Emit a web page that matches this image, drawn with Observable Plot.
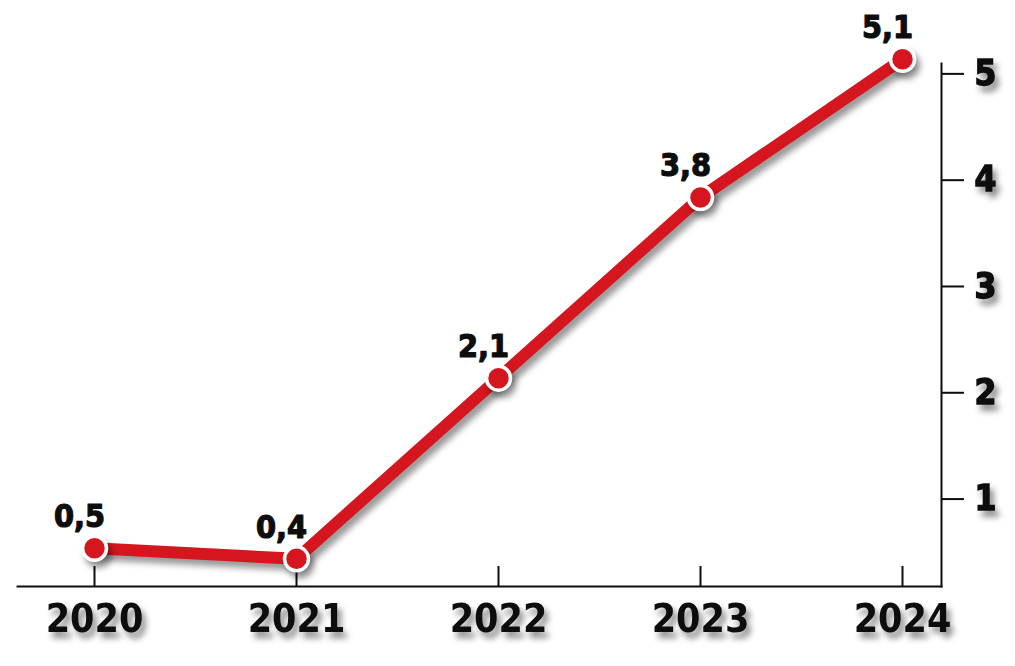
<!DOCTYPE html>
<html><head><meta charset="utf-8">
<script src="https://cdn.jsdelivr.net/npm/d3@7"></script>
<script src="https://cdn.jsdelivr.net/npm/@observablehq/plot@0.6"></script>
<style>
html,body{margin:0;padding:0;background:#fff;}
</style></head><body><div id="chart"></div>
<script>
const years = ["2020", "2021", "2022", "2023", "2024"];
const values = [0.5, 0.4, 2.1, 3.8, 5.1];
const valueLabels = ["0,5", "0,4", "2,1", "3,8", "5,1"];
const yTicks = [1, 2, 3, 4, 5];
const data = years.map((y, i) => ({year: y, value: values[i], label: valueLabels[i]}));

const W = 1015, H = 666, mT = 63, mB = 80, mL = 17, mR = 74;
const red = "#d5161e";
const ink = "#0d0d0d";
const cond = "'DejaVu Sans Condensed', 'DejaVu Sans', sans-serif";

const plot = Plot.plot({
  width: W, height: H, marginTop: mT, marginBottom: mB, marginLeft: mL, marginRight: mR,
  style: {background: "#fff", overflow: "visible", color: ink},
  x: {type: "point", domain: years, insetLeft: 75, insetRight: 38, padding: 0, label: null},
  y: {domain: [0.14, 5.06], label: null},
  marks: [
    Plot.axisX({tickSize: 0, tickPadding: 18, fontSize: 39, fontWeight: "bold", fontFamily: cond, fill: ink, stroke: ink, strokeWidth: 1.6, label: null}),
    Plot.axisY({ticks: yTicks, anchor: "right", tickSize: 22, tickPadding: 11, fontSize: 35, fontWeight: "bold", fontFamily: cond, strokeWidth: 2, fill: ink, tickFormat: d => String(d), dy: 4, label: null}),
    Plot.ruleX(years, {x: d => d, insetTop: (H - mT - mB) - 20, strokeWidth: 2, stroke: ink}),
    Plot.frame({anchor: "bottom", strokeWidth: 2, stroke: ink}),
    Plot.frame({anchor: "right", strokeWidth: 2, stroke: ink}),
    Plot.line(data, {x: "year", y: "value", stroke: red, strokeWidth: 12}),
    Plot.dot(data, {x: "year", y: "value", r: 12, fill: red, stroke: "white", strokeWidth: 3.5}),
    Plot.text(data, {x: "year", y: "value", text: "label", dy: -21, dx: -15, lineAnchor: "bottom", fontSize: 32, fontWeight: "bold", fontFamily: cond, fill: ink, stroke: ink, strokeWidth: 1.2})
  ]
});
document.getElementById("chart").appendChild(plot);
const svg = d3.select(plot);
svg.selectAll('g[aria-label="line"], g[aria-label="dot"]').style("filter", "drop-shadow(4px 6px 3px rgba(0,0,0,0.4))");
svg.selectAll('g[aria-label="y-axis tick label"]').style("stroke", ink).style("stroke-width", "1.4px");
svg.selectAll('g[aria-label="x-axis tick label"], g[aria-label="y-axis tick label"]').style("filter", "drop-shadow(4px 6px 3px rgba(0,0,0,0.45))");
</script></body></html>
